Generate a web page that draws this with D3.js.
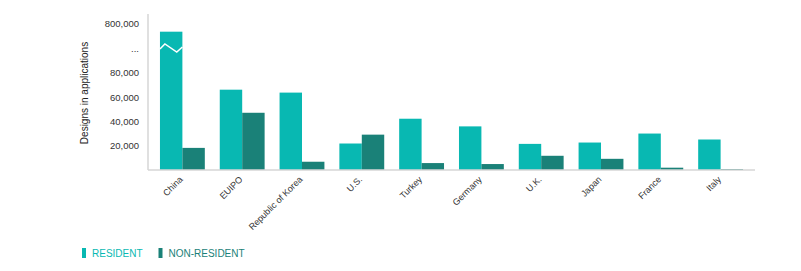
<!DOCTYPE html>
<html>
<head>
<meta charset="utf-8">
<script src="https://cdn.jsdelivr.net/npm/d3@7"></script>
<style>
  body { margin: 0; background: #fff; }
  text { font-family: "Liberation Sans", Arial, sans-serif; }
</style>
</head>
<body>
<script>
var offices = ["China", "EUIPO", "Republic of Korea", "U.S.", "Turkey", "Germany", "U.K.", "Japan", "France", "Italy"];
var resident = [567000, 66100, 63700, 21800, 42200, 35900, 21500, 22600, 30000, 25100];
var nonResident = [18200, 47100, 6800, 29100, 5700, 4900, 11700, 9200, 1900, 800];
var tickValues = [20000, 40000, 60000, 80000, 100000, 800000];
var tickLabels = ["20,000", "40,000", "60,000", "80,000", "...", "800,000"];
var seriesNames = ["RESIDENT", "NON-RESIDENT"];

var colors = { res: "#08b8b2", non: "#1a8178" };

var width = 801, height = 271;
var margin = { left: 148, right: 46, top: 14, bottom: 101 };
var plotBottom = height - margin.bottom;

var svg = d3.select("body").append("svg")
    .attr("width", width)
    .attr("height", height);

// broken axis: everything above 100,000 squeezed into the top strip
var yScale = d3.scaleLinear()
    .domain([0, 100000, 800000])
    .range([plotBottom, plotBottom - 121.5, 23.3]);

var xScale = d3.scaleBand()
    .domain(offices)
    .range([margin.left, width - margin.right])
    .paddingInner(0.25)
    .paddingOuter(0.2);

var xSub = d3.scaleBand()
    .domain(["res", "non"])
    .range([0, xScale.bandwidth()]);

// axes lines
svg.append("line")
    .attr("x1", margin.left).attr("x2", margin.left)
    .attr("y1", margin.top).attr("y2", plotBottom)
    .style("stroke", "#d6d6d6").style("stroke-width", 1.5);

var groups = svg.selectAll(".grp")
    .data(offices)
    .enter().append("g")
    .attr("class", "grp")
    .attr("transform", function(d) { return "translate(" + xScale(d) + ",0)"; });

groups.append("rect")
    .attr("x", xSub("res"))
    .attr("width", xSub.bandwidth())
    .attr("y", function(d, i) { return yScale(resident[i]); })
    .attr("height", function(d, i) { return plotBottom - yScale(resident[i]); })
    .style("fill", colors.res);

groups.append("rect")
    .attr("x", xSub("non"))
    .attr("width", xSub.bandwidth())
    .attr("y", function(d, i) { return yScale(nonResident[i]); })
    .attr("height", function(d, i) { return plotBottom - yScale(nonResident[i]); })
    .style("fill", colors.non);

// zigzag break on the China bar
var cx0 = xScale("China") + xSub("res");
var bw = xSub.bandwidth();
var yb = yScale(100000);
svg.append("path")
    .attr("d", d3.line()([
        [cx0, yb + 0.5],
        [cx0 + bw * 0.22, yb - 4.5],
        [cx0 + bw * 0.75, yb + 3.5],
        [cx0 + bw, yb - 1.5]
    ]))
    .style("fill", "none")
    .style("stroke", "#fff")
    .style("stroke-width", 1.5);

svg.append("line")
    .attr("x1", margin.left).attr("x2", width - margin.right)
    .attr("y1", plotBottom).attr("y2", plotBottom)
    .style("stroke", "#d6d6d6").style("stroke-width", 1.5);

// y ticks
var yAxis = d3.axisLeft(yScale)
    .tickValues(tickValues)
    .tickSize(0)
    .tickPadding(9)
    .tickFormat(function(d, i) { return tickLabels[i]; });

var yg = svg.append("g")
    .attr("transform", "translate(" + margin.left + ",0)")
    .call(yAxis);
yg.select(".domain").remove();
yg.selectAll("text")
    .style("font-size", "9.5px")
    .style("fill", "#333");

svg.append("text")
    .attr("transform", "translate(88," + 93 + ") rotate(-90)")
    .attr("text-anchor", "middle")
    .style("font-size", "10px")
    .style("fill", "#222")
    .text("Designs in applications");

// x labels
var xAxis = d3.axisBottom(xScale).tickSize(0).tickPadding(0);
var xg = svg.append("g")
    .attr("transform", "translate(0," + plotBottom + ")")
    .call(xAxis);
xg.select(".domain").remove();
xg.selectAll("text")
    .attr("text-anchor", "end")
    .attr("dy", 0)
    .attr("transform", "translate(1,10) rotate(-45)")
    .style("font-size", "9px")
    .style("fill", "#333");

// legend
var legend = svg.selectAll(".leg")
    .data(seriesNames)
    .enter().append("g")
    .attr("class", "leg")
    .attr("transform", function(d, i) { return "translate(" + (82 + i * 76.5) + ",248)"; });

legend.append("rect")
    .attr("width", 4)
    .attr("height", 10)
    .style("fill", function(d, i) { return i == 0 ? colors.res : colors.non; });

legend.append("text")
    .attr("x", 10)
    .attr("y", 9)
    .style("font-size", "10px")
    .style("fill", function(d, i) { return i == 0 ? colors.res : colors.non; })
    .text(function(d) { return d; });
</script>
</body>
</html>
